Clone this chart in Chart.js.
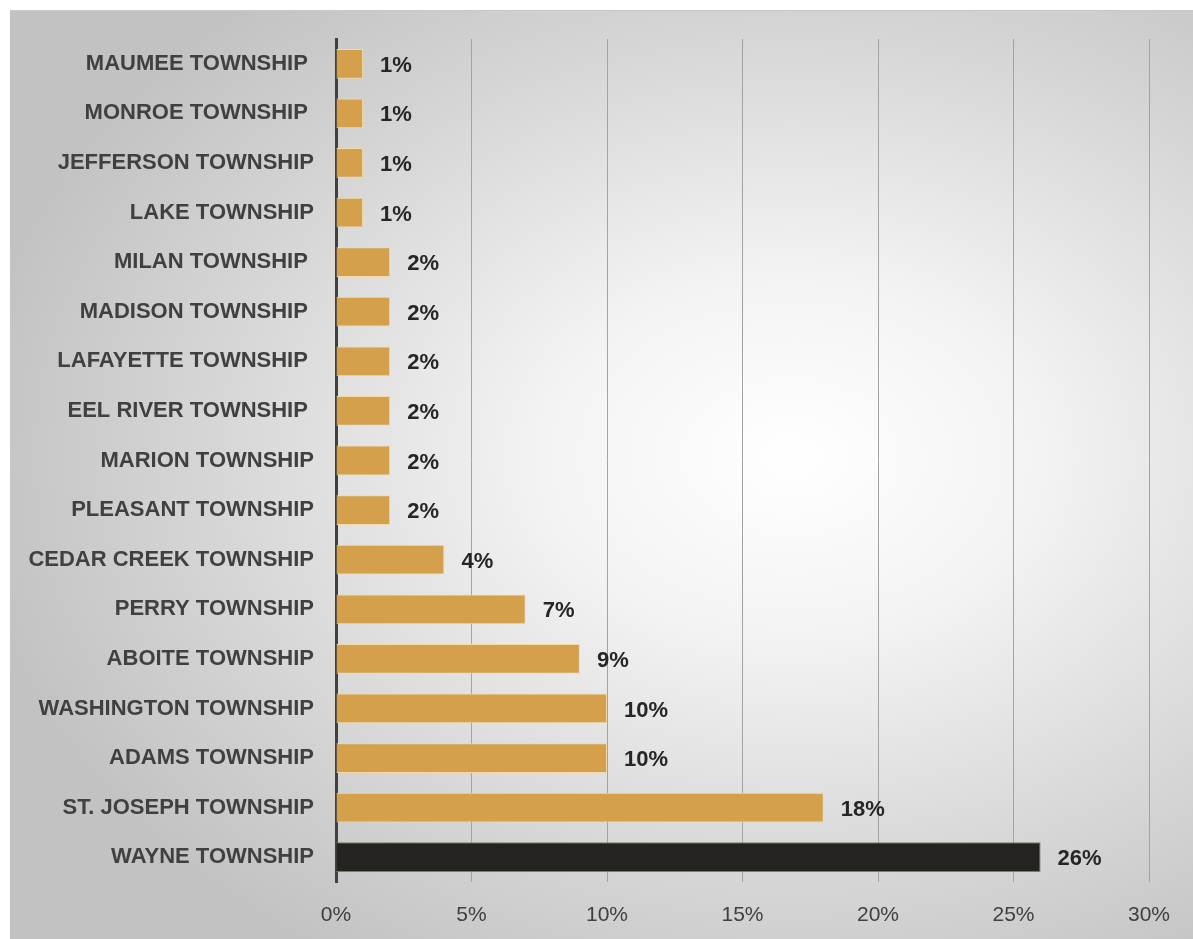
<!DOCTYPE html>
<html>
<head>
<meta charset="utf-8">
<script src="https://cdn.jsdelivr.net/npm/chart.js@4.4.1/dist/chart.umd.min.js"></script>
<style>
    html, body { margin: 0; padding: 0; background: #fff; }
    #panel {
        position: absolute; left: 10px; top: 10px; width: 1183px; height: 929px;
        border-top: 1px solid #c8c8c8;
        box-sizing: border-box;
        background: radial-gradient(ellipse 70% 65% at 66% 48%, #ffffff 0%, #f3f3f3 30%, #d6d6d6 70%, #c2c2c2 100%);
    }
    #wrap { position: absolute; left: 0; top: 0; width: 1193px; height: 939px; }
</style>
</head>
<body>
<div id="panel"></div>
<div id="wrap"><canvas id="township-chart" width="1193" height="939"></canvas></div>
<script>
    const townships = [
        'MAUMEE TOWNSHIP ', 'MONROE TOWNSHIP ', 'JEFFERSON TOWNSHIP', 'LAKE TOWNSHIP',
        'MILAN TOWNSHIP ', 'MADISON TOWNSHIP ', 'LAFAYETTE TOWNSHIP ', 'EEL RIVER TOWNSHIP ',
        'MARION TOWNSHIP', 'PLEASANT TOWNSHIP', 'CEDAR CREEK TOWNSHIP', 'PERRY TOWNSHIP',
        'ABOITE TOWNSHIP', 'WASHINGTON TOWNSHIP', 'ADAMS TOWNSHIP', 'ST. JOSEPH TOWNSHIP',
        'WAYNE TOWNSHIP'
    ];
    const shares = [1, 1, 1, 1, 2, 2, 2, 2, 2, 2, 4, 7, 9, 10, 10, 18, 26];
    const xTickValues = [0, 5, 10, 15, 20, 25, 30];
    const highlighted = 'WAYNE TOWNSHIP';

    const gold = '#d4a04b';
    const dark = '#25231f';
    const barColors = townships.map(t => t === highlighted ? dark : gold);
    const barBorders = townships.map(t => t === highlighted ? '#7c7a76' : '#f3d9a8');

    const fontFamily = '"Liberation Sans", Arial, sans-serif';

    // value labels to the right of each bar
    const valueLabels = {
        id: 'valueLabels',
        afterDatasetsDraw(chart) {
            const ctx = chart.ctx;
            const meta = chart.getDatasetMeta(0);
            ctx.save();
            ctx.font = 'bold 22px ' + fontFamily;
            ctx.fillStyle = '#262626';
            ctx.textAlign = 'left';
            ctx.textBaseline = 'middle';
            meta.data.forEach((bar, i) => {
                ctx.fillText(shares[i] + '%', bar.x + 17, bar.y + 2);
            });
            ctx.restore();
        }
    };

    new Chart(document.getElementById('township-chart'), {
        type: 'bar',
        data: {
            labels: townships,
            datasets: [{
                data: shares,
                backgroundColor: barColors,
                borderColor: barBorders,
                borderWidth: 1,
                borderSkipped: 'start',
                categoryPercentage: 1,
                barPercentage: 0.6
            }]
        },
        options: {
            indexAxis: 'y',
            responsive: false,
            animation: false,
            layout: { padding: { left: 0, top: 39, right: 44, bottom: 0 } },
            plugins: { legend: { display: false }, tooltip: { enabled: false } },
            scales: {
                x: {
                    min: 0,
                    max: 30,
                    afterBuildTicks(scale) { scale.ticks = xTickValues.map(v => ({ value: v })); },
                    afterFit(scale) { scale.height = 57; },
                    grid: { color: '#a3a3a3', lineWidth: 1, drawTicks: false },
                    border: { display: false },
                    ticks: {
                        padding: 21,
                        color: '#404040',
                        font: { family: fontFamily, size: 21 },
                        callback: v => v + '%'
                    }
                },
                y: {
                    afterFit(scale) { scale.width = 336; },
                    grid: { display: false, drawTicks: false },
                    border: { display: true, color: '#404040', width: 3 },
                    ticks: {
                        padding: 22,
                        color: '#404040',
                        font: { family: fontFamily, size: 22, weight: 'bold' }
                    }
                }
            }
        },
        plugins: [valueLabels]
    });
</script>
</body>
</html>
